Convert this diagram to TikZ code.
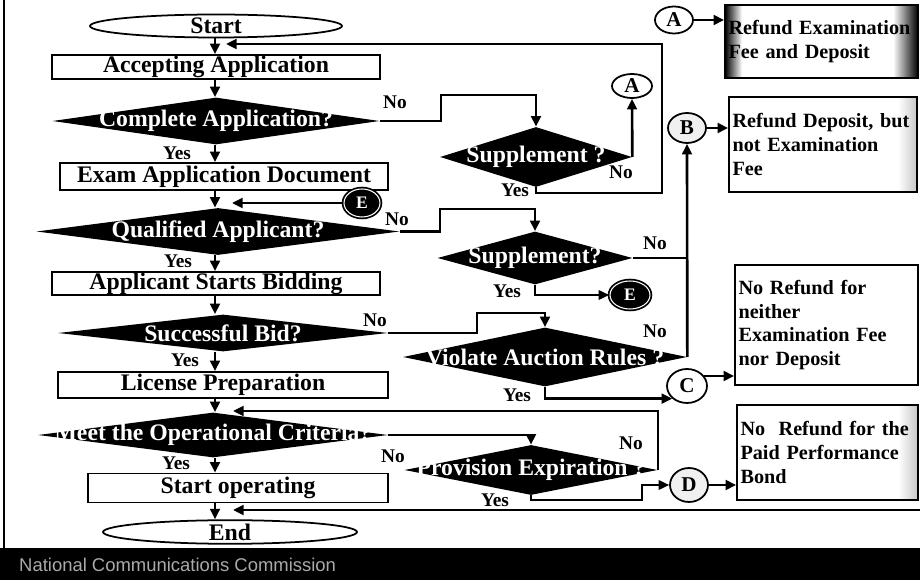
\documentclass[tikz,border=0pt]{standalone}
\usepackage{fontspec}
\setmainfont{Liberation Serif}
\newfontfamily\bandfont{Liberation Sans}
\usetikzlibrary{arrows.meta,shapes.geometric}
\definecolor{figline}{RGB}{0,0,0}
\definecolor{figband}{RGB}{0,0,0}
\definecolor{figbandtext}{RGB}{170,170,170}
\tikzset{
  fl/.style   ={draw=figline, line width=1.5pt},
  flt/.style  ={draw=figline, line width=0.9pt},
  arr/.style  ={-{Triangle[length=6pt,width=5.5pt]}},
  proc/.style ={rectangle, draw=figline, line width=1pt, fill=white, inner sep=0pt, font=\fontsize{13.5}{15}\selectfont\bfseries},
  dec/.style  ={diamond, fill=figline, text=white, inner sep=0pt, font=\fontsize{13.5}{15}\selectfont\bfseries},
  term/.style ={ellipse, draw=figline, line width=1pt, fill=white, inner sep=0pt, font=\fontsize{13.5}{15}\selectfont\bfseries},
  conn/.style ={ellipse, draw=figline, line width=1pt, fill=white, inner sep=0pt, font=\fontsize{12}{14}\selectfont\bfseries},
  connd/.style={conn, fill=figline, text=white, double=white, double distance=0.6pt, font=\fontsize{10}{12}\selectfont\bfseries},
  note/.style ={rectangle, draw=figline, line width=1pt, fill=white, inner xsep=2pt, align=left, font=\fontsize{11.5}{13.4}\selectfont\bfseries},
  yn/.style   ={font=\fontsize{11}{13}\selectfont\bfseries, inner sep=0pt},
}

\begin{document}
\begin{tikzpicture}[x=0.02cm, y=-0.02cm]
  \useasboundingbox (0,0) rectangle (920,580);
  \fill[figband] (0,548) rectangle (920,580);
  \draw[line width=1.5pt] (4,0) -- (4,548);
  \shade[left color=black, right color=white] (725,5) rectangle (742,78);
  \shade[left color=white, right color=black] (893,5) rectangle (918,78);
  \shade[left color=white, right color=gray!45] (898,97) rectangle (917,192);
  \shade[left color=white, right color=gray!45] (898,405) rectangle (918,500);

  \coordinate (col) at (215,0);
  \node[term, minimum width=5.04cm, minimum height=0.46cm] (start) at (216,26) {Start};
  \node[proc, minimum width=6.56cm, minimum height=0.48cm] (accept) at (216,67) {Accepting Application};
  \node[dec, minimum width=6.54cm, minimum height=0.94cm] (complete) at (216,121) {\makebox[0pt]{Complete Application?}};
  \node[proc, minimum width=6.56cm, minimum height=0.54cm] (exam) at (224,176.5) {Exam Application Document};
  \node[dec, minimum width=7.26cm, minimum height=0.94cm] (qualified) at (218,231.5) {\makebox[0pt]{Qualified Applicant?}};
  \node[proc, minimum width=6.56cm, minimum height=0.46cm] (bidding) at (216,283.5) {Applicant Starts Bidding};
  \node[dec, minimum width=6.6cm, minimum height=0.74cm] (bid) at (223,333) {\makebox[0pt]{Successful Bid?}};
  \node[proc, minimum width=6.6cm, minimum height=0.52cm] (license) at (223,385) {License Preparation};
  \node[dec, minimum width=7.0cm, minimum height=0.9cm] (meet) at (213,435) {\makebox[0pt]{Meet the Operational Criteria?}};
  \node[proc, minimum width=6.0cm, minimum height=0.58cm] (operate) at (238,488) {Start operating};
  \node[term, minimum width=5.08cm, minimum height=0.4cm] (end) at (230,532) {End};

  \node[dec, minimum width=3.84cm, minimum height=1.2cm] (supA) at (536,157) {\makebox[0pt]{Supplement ?}};
  \node[dec, minimum width=3.9cm, minimum height=1.06cm] (supB) at (535,258) {\makebox[0pt]{Supplement?}};
  \node[dec, minimum width=5.68cm, minimum height=1.18cm] (violate) at (545,357) {\makebox[0pt]{Violate Auction Rules ?}};
  \node[dec, minimum width=5.06cm, minimum height=1.0cm] (provision) at (531,470) {\makebox[0pt]{Provision Expiration ?}};

  \node[conn, minimum width=0.76cm, minimum height=0.54cm] (cA1) at (674,20) {A};
  \node[conn, minimum width=0.8cm, minimum height=0.48cm] (cA2) at (632,86) {A};
  \node[conn, fill=gray!12, minimum width=0.76cm, minimum height=0.6cm] (cB) at (687,128) {B};
  \node[conn, minimum width=0.8cm, minimum height=0.68cm] (cC) at (687,386) {C};
  \node[conn, fill=gray!12, minimum width=0.76cm, minimum height=0.68cm] (cD) at (689,485) {D};
  \node[connd, minimum width=0.72cm, minimum height=0.56cm] (cE1) at (362,203) {E};
  \node[connd, minimum width=0.8cm, minimum height=0.56cm] (cE2) at (630,295) {E};

  \node[note, fill=none, text width=3.72cm, minimum height=1.46cm] (boxA) at (821.5,41.5) {Refund Examination\\Fee and Deposit};
  \node[note, fill=none, text width=3.62cm, minimum height=1.9cm] (boxB) at (823,144.5) {Refund Deposit, but\\not Examination\\Fee};
  \node[note, text width=3.52cm, minimum height=2.4cm] (boxC) at (826.5,325) {No Refund for\\neither\\Examination Fee\\nor Deposit};
  \node[note, fill=none, text width=3.48cm, minimum height=1.9cm] (boxD) at (827.5,452.5) {No\ \ Refund for the\\Paid Performance\\Bond};

  \coordinate (inAccept) at (226,44);
  \coordinate (inQual) at (232,203);
  \coordinate (inMeet) at (233,411);
  \coordinate (inEnd) at (233,510);
  \coordinate (fromRight) at (920,510);

  \draw[fl,arr] (start.south -| col) -- (accept.north -| col);
  \draw[fl,arr] (accept.south -| col) -- (complete.north -| col);
  \draw[fl,arr] (complete.south -| col) -- (exam.north -| col);
  \draw[fl,arr] (exam.south -| col) -- (qualified.north -| col);
  \draw[fl,arr] (qualified.south -| col) -- (bidding.north -| col);
  \draw[fl,arr] (bidding.south -| col) -- (bid.north -| col);
  \draw[fl,arr] (bid.south -| col) -- (license.north -| col);
  \draw[fl,arr] (license.south -| col) -- (meet.north -| col);
  \draw[fl,arr] (meet.south -| col) -- (operate.north -| col);
  \draw[fl,arr] (operate.south -| col) -- (end.north -| col);

  \draw[fl,arr] (complete.east) -| (441,95) -| (supA.north);
  \draw[fl,arr] (supA.east) -- (cA2.south);
  \draw[fl,arr] (supA.south) |- (662,193) |- (inAccept);
  \draw[fl,arr] (cA1.east) -- (cA1.east -| boxA.west);

  \draw[fl,arr] (qualified.east) -| (440,209) -| (supB.north);
  \draw[fl,arr] (cE1.west) -- (inQual);
  \draw[flt,arr] (supB.south) |- (cE2.west);
  \draw[fl] (supB.east) -- (supB.east -| cB.south);
  \draw[fl,arr] (violate.east) -- (cB.south);
  \draw[fl,arr] (cB.east) -- (cB.east -| boxB.west);

  \draw[fl,arr] (bid.east) -| (477,313) -| (violate.north);
  \draw[fl,arr] (violate.south) |- (cC.south west);
  \draw[fl,arr] (cC.30) -- (cC.30 -| boxC.west);

  \draw[fl,arr] (meet.east) -| (provision.north);
  \draw[fl,arr] (provision.east) |- (inMeet);
  \draw[flt,arr] (provision.south) |- (642,500) |- (cD.west);
  \draw[fl,arr] (cD.east) -- (cD.east -| boxD.west);
  \draw[fl,arr] (fromRight) -- (inEnd);

  \node[yn] (yComplete) at (177,153) {Yes};
  \node[yn] (nComplete) at (395,102) {No};
  \node[yn] (nSupA) at (621,172) {No};
  \node[yn] (ySupA) at (515,190) {Yes};
  \node[yn] (nQual) at (397,219) {No};
  \node[yn] (yQual) at (178,261) {Yes};
  \node[yn] (nSupB) at (655,243) {No};
  \node[yn] (ySupB) at (507,291) {Yes};
  \node[yn] (nBid) at (375,320) {No};
  \node[yn] (yBid) at (185,360) {Yes};
  \node[yn] (nViolate) at (655,331) {No};
  \node[yn] (yViolate) at (517,395) {Yes};
  \node[yn] (nMeet) at (393,456) {No};
  \node[yn] (yMeet) at (176,463) {Yes};
  \node[yn] (nProv) at (631,443) {No};
  \node[yn] (yProv) at (495,500) {Yes};

  \node[anchor=west, text=figbandtext, font=\bandfont\fontsize{10.5}{12}\selectfont] (band) at (13,565) {National Communications Commission};
\end{tikzpicture}
\end{document}
